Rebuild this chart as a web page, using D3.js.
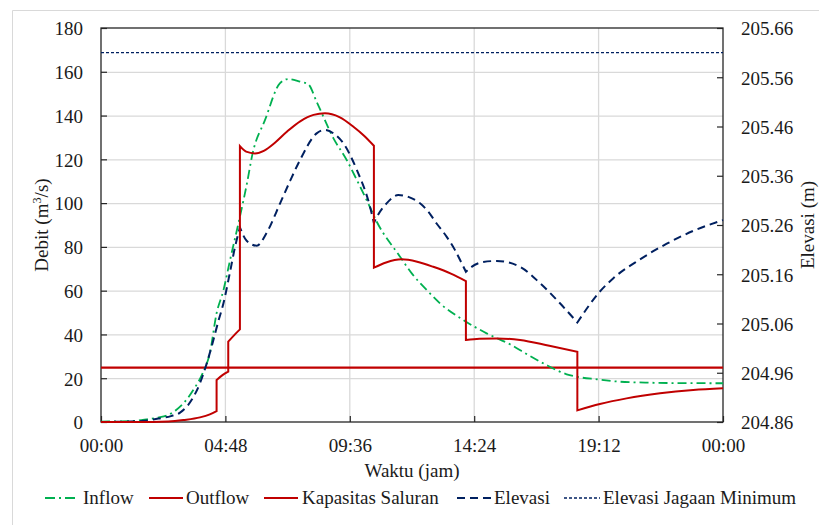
<!DOCTYPE html>
<html>
<head>
<meta charset="utf-8">
<script src="https://cdn.jsdelivr.net/npm/d3@7"></script>
<style>
  html, body { margin: 0; padding: 0; background: #fff; }
  svg text { font-family: "Liberation Serif", "DejaVu Serif", serif; fill: #1a1a1a; }
</style>
</head>
<body>
<svg id="chart" width="819" height="525"></svg>
<script>
// Time axis (hours from midnight) and its labels
const timeTicks = [0, 4.8, 9.6, 14.4, 19.2, 24];
const timeLabels = ["00:00", "04:48", "09:36", "14:24", "19:12", "00:00"];
const debitTicks = [0, 20, 40, 60, 80, 100, 120, 140, 160, 180];
const elevTicks = [204.86, 204.96, 205.06, 205.16, 205.26, 205.36, 205.46, 205.56, 205.66];

// Inflow hydrograph [hour, m3/s]
const inflow = [
  [0, 0.2], [1.12, 0.4], [1.76, 1.2], [2.2, 2.0], [2.53, 2.9], [2.9, 5.5], [3.18, 8.5],
  [3.56, 14.6], [3.95, 23], [4.2, 31.4], [4.46, 49.7], [4.72, 60], [4.98, 74], [5.36, 93.8],
  [5.62, 108.3], [5.85, 122.7], [6.33, 138], [6.9, 154.7], [7.23, 156.7], [7.68, 155.5],
  [8.0, 154.3], [8.32, 146.3], [8.97, 129.6], [9.48, 119.7], [9.87, 110.6], [10.25, 101.4],
  [10.64, 91.5], [11.54, 75.5], [11.99, 67.9], [12.57, 60.3], [13.08, 54.2], [13.98, 46.6],
  [14.88, 40.5], [15.78, 35.5], [16.49, 30.6], [17.26, 25.6], [17.97, 21.8], [18.35, 20.7],
  [19.13, 19.5], [20.03, 18.4], [21, 18.0], [22, 17.8], [24, 17.7]
];

// Outflow, one piece per gate stage [hour, m3/s]
const outflowStages = [
  [[0, 0], [2, 0], [2.6, 0.2], [3.18, 0.9], [3.82, 2.1], [4.2, 3.5], [4.46, 5]],
  [[4.46, 19.2], [4.7, 21.5], [4.91, 23.0]],
  [[4.91, 36.7], [5.15, 39.8], [5.36, 42.3]],
  [[5.36, 126], [5.6, 123.5], [5.94, 122.7], [6.3, 124], [6.7, 127.5], [7.17, 132.6],
   [7.7, 137.5], [8.2, 140.3], [8.64, 141], [9.2, 139.3], [9.74, 134.9], [10.15, 130.8], [10.53, 126.2]],
  [[10.53, 70.5], [11.0, 72.9], [11.6, 74.3], [12.2, 73.2], [12.82, 70.9], [13.5, 67.8], [14.08, 64.4]],
  [[14.08, 37.5], [14.6, 38.0], [15.27, 38.2], [16.17, 37.5], [17.3, 34.8], [18.38, 32.1]],
  [[18.38, 5.3], [19.25, 8.2], [20.28, 10.8], [21.57, 13.1], [22.85, 14.6], [24, 15.4]]
];

// Water level, one piece between each gate change [hour, m]
const elevasiStages = [
  [[0, 204.86], [1, 204.861], [1.6, 204.862], [2.21, 204.867], [2.7, 204.872], [3.05, 204.879],
   [3.5, 204.905], [3.82, 204.939], [4.08, 204.979], [4.33, 205.025], [4.53, 205.065],
   [4.72, 205.1], [4.98, 205.165], [5.17, 205.215], [5.36, 205.255]],
  [[5.36, 205.255], [5.62, 205.228], [6.01, 205.218], [6.4, 205.245], [6.91, 205.304],
   [7.3, 205.35], [7.68, 205.392], [8.32, 205.446], [8.64, 205.453], [9.0, 205.445],
   [9.35, 205.426], [9.87, 205.372], [10.38, 205.297], [10.53, 205.264]],
  [[10.53, 205.264], [10.64, 205.276], [11.02, 205.304], [11.47, 205.321], [11.86, 205.317],
   [12.31, 205.304], [12.63, 205.287], [12.95, 205.263], [13.34, 205.236], [13.66, 205.209],
   [13.92, 205.182], [14.08, 205.165]],
  [[14.08, 205.165], [14.3, 205.175], [14.75, 205.185], [15.27, 205.187], [16.17, 205.175],
   [16.94, 205.142], [17.71, 205.101], [18.38, 205.062]],
  [[18.38, 205.062], [19.25, 205.125], [19.77, 205.152], [20.79, 205.19], [21.83, 205.222],
   [22.85, 205.248], [24, 205.27]]
];

const kapasitasSaluran = 24.8;        // channel capacity, m3/s
const elevasiJagaanMinimum = 205.61;  // minimum freeboard level, m

const legendItems = ["Inflow", "Outflow", "Kapasitas Saluran", "Elevasi", "Elevasi Jagaan Minimum"];

// ---------------------------------------------------------------
const svg = d3.select("#chart");
const plot = { left: 101, right: 723, top: 28, bottom: 422 };

const x = d3.scaleLinear().domain([0, 24]).range([plot.left, plot.right]);
const yQ = d3.scaleLinear().domain([0, 180]).range([plot.bottom, plot.top]);
const yE = d3.scaleLinear().domain([204.86, 205.66]).range([plot.bottom, plot.top]);

const COLORS = { inflow: "#00b050", outflow: "#c00000", elev: "#002060", grid: "#d9d9d9", axis: "#262626" };
const FONT = 19;

// outer frame
svg.append("path").attr("d", "M12.5,525 V10.5 H819").attr("fill", "none").attr("stroke", "#d9d9d9");

// gridlines
svg.append("g").selectAll("line").data(debitTicks.slice(1, -1)).join("line")
  .attr("x1", plot.left).attr("x2", plot.right)
  .attr("y1", d => yQ(d) + 0.5).attr("y2", d => yQ(d) + 0.5)
  .attr("stroke", COLORS.grid).attr("stroke-width", 1.3);
svg.append("g").selectAll("line").data(timeTicks.slice(1, -1)).join("line")
  .attr("y1", plot.top).attr("y2", plot.bottom)
  .attr("x1", d => x(d)).attr("x2", d => x(d))
  .attr("stroke", COLORS.grid).attr("stroke-width", 1.3);

// axes (inward ticks)
function styleAxis(g) {
  g.select(".domain").remove();
  g.selectAll(".tick line").attr("stroke", COLORS.axis).attr("stroke-width", 1.2);
  g.selectAll(".tick text").attr("font-size", FONT).attr("font-family", "Liberation Serif").attr("fill", "#1a1a1a");
}
svg.append("g").attr("transform", `translate(0,${plot.bottom})`)
  .call(d3.axisBottom(x).tickValues(timeTicks).tickFormat((d, i) => timeLabels[i]).tickSizeInner(-6).tickSizeOuter(0))
  .call(styleAxis)
  .call(g => g.selectAll(".tick text").attr("y", 30).attr("dy", 0));
svg.append("g").attr("transform", `translate(${plot.left},0)`)
  .call(d3.axisLeft(yQ).tickValues(debitTicks).tickSizeInner(-6).tickSizeOuter(0).tickPadding(18))
  .call(styleAxis)
  .call(g => g.selectAll(".tick text").attr("dy", "0.36em"));
svg.append("g").attr("transform", `translate(${plot.right},0)`)
  .call(d3.axisRight(yE).tickValues(elevTicks).tickFormat(d3.format(".2f")).tickSizeInner(-6).tickSizeOuter(0).tickPadding(18))
  .call(styleAxis)
  .call(g => g.selectAll(".tick text").attr("dy", "0.36em"));

// plot frame
svg.append("rect")
  .attr("x", plot.left).attr("y", plot.top)
  .attr("width", plot.right - plot.left).attr("height", plot.bottom - plot.top)
  .attr("fill", "none").attr("stroke", COLORS.axis).attr("stroke-width", 1.3);

// joins each smoothed piece into one continuous path
function piecewise(stages, yScale) {
  const gen = d3.line().x(d => x(d[0])).y(d => yScale(d[1])).curve(d3.curveMonotoneX);
  return stages.map((s, i) => {
    const d = gen(s);
    return i ? d.replace(/^M/, "L") : d;
  }).join("");
}

const lines = svg.append("g");

// Elevasi Jagaan Minimum
lines.append("line")
  .attr("x1", plot.left).attr("x2", plot.right)
  .attr("y1", yE(elevasiJagaanMinimum)).attr("y2", yE(elevasiJagaanMinimum))
  .attr("stroke", COLORS.elev).attr("stroke-width", 1.4).attr("stroke-dasharray", "3,2");

// Kapasitas Saluran
lines.append("line")
  .attr("x1", plot.left).attr("x2", plot.right)
  .attr("y1", yQ(kapasitasSaluran)).attr("y2", yQ(kapasitasSaluran))
  .attr("stroke", COLORS.outflow).attr("stroke-width", 2.2);

// Inflow
lines.append("path")
  .attr("d", d3.line().x(d => x(d[0])).y(d => yQ(d[1])).curve(d3.curveMonotoneX)(inflow))
  .attr("fill", "none").attr("stroke", COLORS.inflow).attr("stroke-width", 1.8)
  .attr("stroke-dasharray", "9,4,2,4");

// Elevasi
lines.append("path")
  .attr("d", piecewise(elevasiStages, yE))
  .attr("fill", "none").attr("stroke", COLORS.elev).attr("stroke-width", 2)
  .attr("stroke-dasharray", "8,5");

// Outflow
lines.append("path")
  .attr("d", piecewise(outflowStages, yQ))
  .attr("fill", "none").attr("stroke", COLORS.outflow).attr("stroke-width", 2)
  .attr("stroke-linejoin", "miter");

// axis titles
svg.append("text").attr("x", (plot.left + plot.right) / 2).attr("y", 477)
  .attr("text-anchor", "middle").attr("font-size", FONT).text("Waktu (jam)");

const yTitle = svg.append("text").attr("transform", `translate(48,${(plot.top + plot.bottom) / 2}) rotate(-90)`)
  .attr("text-anchor", "middle").attr("font-size", FONT);
yTitle.append("tspan").text("Debit (m");
yTitle.append("tspan").attr("font-size", FONT * 0.65).attr("dy", -7).text("3");
yTitle.append("tspan").attr("dy", 7).text("/s)");

svg.append("text").attr("transform", `translate(814,${(plot.top + plot.bottom) / 2}) rotate(-90)`)
  .attr("text-anchor", "middle").attr("font-size", FONT).text("Elevasi (m)");

// legend
const legendY = 498;
const legendLayout = [
  { x0: 45, x1: 75, tx: 83, stroke: COLORS.inflow, w: 1.8, dash: "10,4,2,4" },
  { x0: 149, x1: 183, tx: 186, stroke: COLORS.outflow, w: 2.2, dash: null },
  { x0: 264, x1: 298, tx: 302, stroke: COLORS.outflow, w: 2.2, dash: null },
  { x0: 457, x1: 491, tx: 494, stroke: COLORS.elev, w: 2, dash: "8,5" },
  { x0: 564, x1: 600, tx: 603, stroke: COLORS.elev, w: 1.4, dash: "3,2" }
];
const leg = svg.append("g");
legendItems.forEach((name, i) => {
  const L = legendLayout[i];
  leg.append("line").attr("x1", L.x0).attr("x2", L.x1).attr("y1", legendY).attr("y2", legendY)
    .attr("stroke", L.stroke).attr("stroke-width", L.w).attr("stroke-dasharray", L.dash);
  leg.append("text").attr("x", L.tx).attr("y", 504).attr("font-size", FONT).text(name);
});
</script>
</body>
</html>
